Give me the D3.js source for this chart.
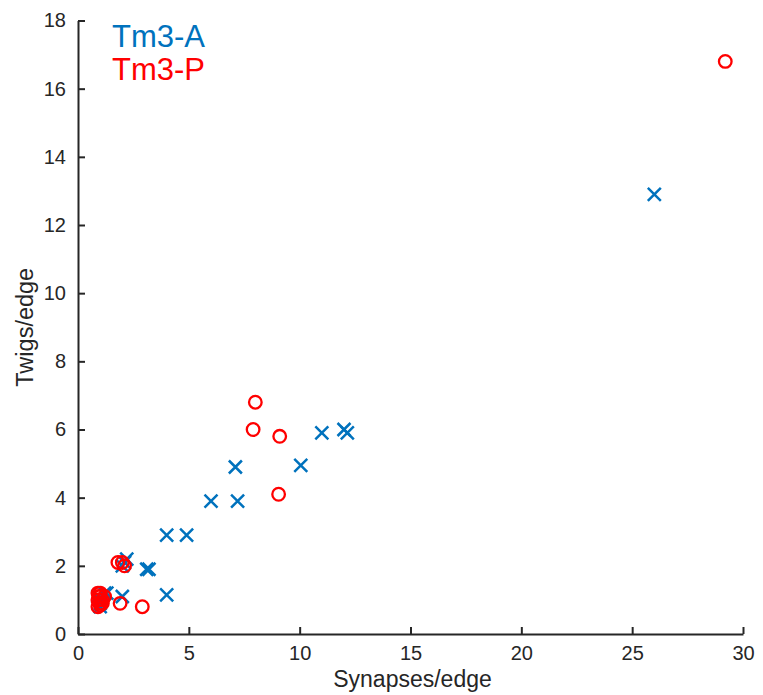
<!DOCTYPE html>
<html>
<head>
<meta charset="utf-8">
<script src="https://cdn.jsdelivr.net/npm/d3@7"></script>
<style>
  body { margin: 0; background: #fff; }
  text { font-family: "Liberation Sans", Arial, Helvetica, sans-serif; fill: #262626; }
</style>
</head>
<body>
<svg id="chart" width="763" height="695"></svg>
<script>
// Tm3-A (blue crosses)
const tm3A_x = [26.0, 11.0, 12.0, 12.15, 7.1, 10.05, 6.0, 7.2, 4.0, 4.9, 3.1, 3.2, 4.0, 2.0, 2.0, 2.2, 2.1, 1.2, 1.0, 1.0, 0.9, 1.3, 1.0];
const tm3A_y = [12.9, 5.9, 6.0, 5.9, 4.9, 4.95, 3.9, 3.9, 2.9, 2.9, 1.9, 1.9, 1.15, 1.1, 2.0, 2.2, 2.1, 1.2, 0.8, 1.0, 1.1, 1.2, 0.9];
// Tm3-P (red circles)
const tm3P_x = [29.2, 8.0, 7.9, 9.1, 9.05, 1.8, 2.0, 2.1, 1.9, 2.9, 0.9, 1.0, 1.0, 1.0, 0.9, 1.1, 1.2, 0.9, 1.0, 1.1, 0.95];
const tm3P_y = [16.8, 6.8, 6.0, 5.8, 4.1, 2.1, 2.1, 2.0, 0.9, 0.8, 1.0, 1.1, 0.9, 1.2, 0.8, 1.0, 1.1, 1.2, 0.85, 0.9, 1.1];
const xTicks = [0, 5, 10, 15, 20, 25, 30];
const yTicks = [0, 2, 4, 6, 8, 10, 12, 14, 16, 18];
const seriesNames = ["Tm3-A", "Tm3-P"];
const seriesColors = ["#0072BD", "#FF0000"];

const svg = d3.select("#chart");
const m = { left: 78, right: 743, top: 20.5, bottom: 634 };
const x = d3.scaleLinear().domain([0, 30]).range([m.left, m.right]);
const y = d3.scaleLinear().domain([0, 18]).range([m.bottom, m.top]);

const axisColor = "#262626";
const xAxis = d3.axisBottom(x).tickValues(xTicks).tickSizeInner(-7).tickSizeOuter(0).tickPadding(12);
const yAxis = d3.axisLeft(y).tickValues(yTicks).tickSizeInner(-7).tickSizeOuter(0).tickPadding(12);

const gx = svg.append("g").attr("transform", `translate(0,${m.bottom})`).call(xAxis);
const gy = svg.append("g").attr("transform", `translate(${m.left},0)`).call(yAxis);
[gx, gy].forEach(g => {
  g.select(".domain").attr("stroke", axisColor).attr("stroke-width", 2);
  g.selectAll(".tick line").attr("stroke", axisColor).attr("stroke-width", 2);
  g.selectAll(".tick text").attr("font-size", 20).attr("fill", axisColor)
    .attr("font-family", '"Liberation Sans", Arial, sans-serif');
});

// Axis labels
svg.append("text").attr("x", (m.left + m.right) / 2 + 2).attr("y", 687)
  .attr("text-anchor", "middle").attr("font-size", 23).text("Synapses/edge");
svg.append("text").attr("transform", `translate(33,${(m.top + m.bottom) / 2}) rotate(-90)`)
  .attr("text-anchor", "middle").attr("font-size", 23.5).text("Twigs/edge");

// Tm3-A crosses
const cs = 6.5;
const ptsA = tm3A_x.map((v, i) => [v, tm3A_y[i]]);
svg.append("g").selectAll("path").data(ptsA).enter().append("path")
  .attr("d", d => {
    const px = x(d[0]), py = y(d[1]);
    return `M${px - cs},${py - cs}L${px + cs},${py + cs}M${px - cs},${py + cs}L${px + cs},${py - cs}`;
  })
  .attr("stroke", seriesColors[0]).attr("stroke-width", 2.5).attr("fill", "none");

// Tm3-P circles
const ptsP = tm3P_x.map((v, i) => [v, tm3P_y[i]]);
svg.append("g").selectAll("circle").data(ptsP).enter().append("circle")
  .attr("cx", d => x(d[0])).attr("cy", d => y(d[1])).attr("r", 6.3)
  .attr("stroke", seriesColors[1]).attr("stroke-width", 2.3).attr("fill", "none");

// Legend (text only)
seriesNames.forEach((n, i) => {
  svg.append("text").attr("x", 112).attr("y", 47 + i * 33)
    .attr("font-size", 31).style("fill", seriesColors[i]).text(n);
});
</script>
</body>
</html>
